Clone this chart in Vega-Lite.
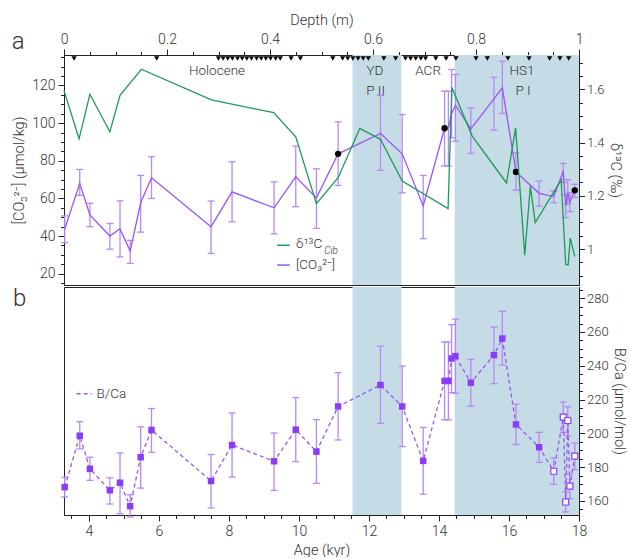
{
 "$schema": "https://vega.github.io/schema/vega-lite/v6.json",
 "padding": {"left": 11, "top": 11, "right": 0, "bottom": 0},
 "background": "white",
 "config": {
  "font": "Roboto",
  "view": {"stroke": "#222", "strokeWidth": 1},
  "axis": {"domainColor": "#222", "tickColor": "#222", "labelColor": "#333", "titleColor": "#333", "labelFontSize": 14, "titleFontSize": 14.5, "labelFontWeight": 300, "titleFontWeight": 300, "grid": false, "labelPadding": 3, "titlePadding": 5, "tickWidth": 1, "domainWidth": 1},
  "axisX": {"labelFlush": false},
  "axisRight": {"labelFontSize": 13, "labelPadding": 2, "titlePadding": 3},
  "text": {"font": "Roboto", "fontWeight": 300, "color": "#333"},
  "title": {"font": "Roboto", "fontWeight": 300, "color": "#333", "fontSize": 24}
 },
 "datasets": {
  "bands": [{"start": 11.53, "end": 12.93}, {"start": 14.45, "end": 18}],
  "co3": [
   {"age": 3.31, "v": 43.6, "lo": 36.5, "hi": 50.7},
   {"age": 3.74, "v": 68.0, "lo": 61.6, "hi": 75.4},
   {"age": 4.03, "v": 51.2, "lo": 45.0, "hi": 57.4},
   {"age": 4.60, "v": 40.0, "lo": 33.0, "hi": 46.7},
   {"age": 4.89, "v": 43.9, "lo": 28.9, "hi": 58.7},
   {"age": 5.18, "v": 32.0, "lo": 25.5, "hi": 37.7},
   {"age": 5.48, "v": 57.7, "lo": 42.1, "hi": 72.2},
   {"age": 5.79, "v": 71.0, "lo": 60.0, "hi": 82.1},
   {"age": 7.49, "v": 45.0, "lo": 30.8, "hi": 58.6},
   {"age": 8.09, "v": 63.5, "lo": 47.6, "hi": 79.5},
   {"age": 9.29, "v": 55.0, "lo": 41.2, "hi": 68.8},
   {"age": 9.91, "v": 71.5, "lo": 55.6, "hi": 87.8},
   {"age": 10.50, "v": 60.3, "lo": 44.1, "hi": 75.7},
   {"age": 11.12, "v": 83.7, "lo": 66.9, "hi": 100.7},
   {"age": 12.33, "v": 94.5, "lo": 74.9, "hi": 114.7},
   {"age": 12.95, "v": 83.7, "lo": 63.0, "hi": 104.6},
   {"age": 13.55, "v": 56.0, "lo": 38.6, "hi": 72.2},
   {"age": 14.16, "v": 97.3, "lo": 77.2, "hi": 117.0},
   {"age": 14.27, "v": 97.3, "lo": 77.2, "hi": 117.0},
   {"age": 14.36, "v": 105.0, "lo": 92.2, "hi": 128.5},
   {"age": 14.47, "v": 109.5, "lo": 90.4, "hi": 125.8},
   {"age": 14.91, "v": 97.0, "lo": 83.9, "hi": 108.1},
   {"age": 15.57, "v": 112.9, "lo": 96.3, "hi": 124.4},
   {"age": 15.81, "v": 118.7, "lo": 105.1, "hi": 132.9},
   {"age": 16.20, "v": 74.1, "lo": 64.4, "hi": 84.2},
   {"age": 16.86, "v": 62.7, "lo": 55.9, "hi": 69.2},
   {"age": 17.28, "v": 61.0, "lo": 57.7, "hi": 63.9},
   {"age": 17.55, "v": 74.5, "lo": 68.5, "hi": 78.6},
   {"age": 17.62, "v": 56.0, "lo": 49.7, "hi": 62.0},
   {"age": 17.68, "v": 63.0, "lo": 57.0, "hi": 70.0},
   {"age": 17.74, "v": 58.0, "lo": 53.0, "hi": 63.0},
   {"age": 17.88, "v": 64.3, "lo": 60.5, "hi": 67.5}
  ],
  "dots": [
   {"age": 11.12, "v": 83.7}, {"age": 14.16, "v": 97.3}, {"age": 16.20, "v": 74.1}, {"age": 17.88, "v": 64.3}
  ],
  "d13c": [
   {"age": 3.29, "d": 1.595}, {"age": 3.72, "d": 1.414}, {"age": 4.03, "d": 1.581}, {"age": 4.60, "d": 1.440},
   {"age": 4.89, "d": 1.577}, {"age": 5.50, "d": 1.675}, {"age": 7.50, "d": 1.560}, {"age": 9.28, "d": 1.512},
   {"age": 9.91, "d": 1.421}, {"age": 10.50, "d": 1.170}, {"age": 11.12, "d": 1.268}, {"age": 11.74, "d": 1.453},
   {"age": 12.33, "d": 1.412}, {"age": 12.95, "d": 1.255}, {"age": 14.26, "d": 1.152}, {"age": 14.37, "d": 1.607},
   {"age": 14.95, "d": 1.424}, {"age": 15.93, "d": 1.248}, {"age": 16.19, "d": 1.455}, {"age": 16.45, "d": 0.977},
   {"age": 16.61, "d": 1.236}, {"age": 16.75, "d": 1.099}, {"age": 17.49, "d": 1.260}, {"age": 17.62, "d": 0.942},
   {"age": 17.69, "d": 0.940}, {"age": 17.75, "d": 1.041}, {"age": 17.88, "d": 0.972}
  ],
  "depths": [
   {"depth": 0.0196}, {"depth": 0.180},
   {"depth": 0.300}, {"depth": 0.309}, {"depth": 0.318}, {"depth": 0.327}, {"depth": 0.337}, {"depth": 0.346}, {"depth": 0.355},
   {"depth": 0.364}, {"depth": 0.374}, {"depth": 0.383}, {"depth": 0.392}, {"depth": 0.401}, {"depth": 0.411}, {"depth": 0.420},
   {"depth": 0.441}, {"depth": 0.459}, {"depth": 0.522},
   {"depth": 0.541}, {"depth": 0.551}, {"depth": 0.561}, {"depth": 0.571}, {"depth": 0.581}, {"depth": 0.591},
   {"depth": 0.621}, {"depth": 0.644},
   {"depth": 0.663}, {"depth": 0.673}, {"depth": 0.683}, {"depth": 0.693}, {"depth": 0.702},
   {"depth": 0.722}, {"depth": 0.742}, {"depth": 0.761}, {"depth": 0.800}, {"depth": 0.822}, {"depth": 0.862},
   {"depth": 0.903}, {"depth": 0.943}, {"depth": 0.963}, {"depth": 0.980}
  ],
  "bca": [
   {"age": 3.31, "v": 168.2, "lo": 162.4, "hi": 174.0, "open": false},
   {"age": 3.74, "v": 198.6, "lo": 190.8, "hi": 206.9, "open": false},
   {"age": 4.03, "v": 179.0, "lo": 172.2, "hi": 185.9, "open": false},
   {"age": 4.60, "v": 166.3, "lo": 158.2, "hi": 173.7, "open": false},
   {"age": 4.89, "v": 170.8, "lo": 152.5, "hi": 188.4, "open": false},
   {"age": 5.18, "v": 156.9, "lo": 150.5, "hi": 163.7, "open": false},
   {"age": 5.48, "v": 185.9, "lo": 167.6, "hi": 203.9, "open": false},
   {"age": 5.79, "v": 202.0, "lo": 188.8, "hi": 214.7, "open": false},
   {"age": 7.49, "v": 171.8, "lo": 155.9, "hi": 187.5, "open": false},
   {"age": 8.09, "v": 193.1, "lo": 174.1, "hi": 212.0, "open": false},
   {"age": 9.29, "v": 183.5, "lo": 166.3, "hi": 200.2, "open": false},
   {"age": 9.91, "v": 202.2, "lo": 183.3, "hi": 221.2, "open": false},
   {"age": 10.50, "v": 189.2, "lo": 170.4, "hi": 208.1, "open": false},
   {"age": 11.12, "v": 215.9, "lo": 196.1, "hi": 235.9, "open": false},
   {"age": 12.33, "v": 228.6, "lo": 205.9, "hi": 251.6, "open": false},
   {"age": 12.95, "v": 215.9, "lo": 192.2, "hi": 239.8, "open": false},
   {"age": 13.55, "v": 183.7, "lo": 164.0, "hi": 203.5, "open": false},
   {"age": 14.16, "v": 231.0, "lo": 208.0, "hi": 254.1, "open": false},
   {"age": 14.27, "v": 231.0, "lo": 208.0, "hi": 254.1, "open": false},
   {"age": 14.36, "v": 244.3, "lo": 224.1, "hi": 264.3, "open": false},
   {"age": 14.47, "v": 245.7, "lo": 223.7, "hi": 267.6, "open": false},
   {"age": 14.91, "v": 230.0, "lo": 216.1, "hi": 243.7, "open": false},
   {"age": 15.57, "v": 246.3, "lo": 229.4, "hi": 262.9, "open": false},
   {"age": 15.81, "v": 256.1, "lo": 240.4, "hi": 272.2, "open": false},
   {"age": 16.20, "v": 205.3, "lo": 193.4, "hi": 217.3, "open": false},
   {"age": 16.86, "v": 191.8, "lo": 182.8, "hi": 200.6, "open": false},
   {"age": 17.28, "v": 177.6, "lo": 169.8, "hi": 185.5, "open": true},
   {"age": 17.55, "v": 209.6, "lo": 200.6, "hi": 218.6, "open": true},
   {"age": 17.62, "v": 159.4, "lo": 153.5, "hi": 165.3, "open": true},
   {"age": 17.68, "v": 207.6, "lo": 198.6, "hi": 215.7, "open": true},
   {"age": 17.74, "v": 168.8, "lo": 161.4, "hi": 175.7, "open": true},
   {"age": 17.88, "v": 186.5, "lo": 178.6, "hi": 194.3, "open": true}
  ]
 },
 "spacing": 0,
 "vconcat": [
  {
   "width": 515,
   "height": 230,
   "title": {"text": "a", "anchor": "start", "frame": "bounds", "offset": -42},
   "layer": [
    {
     "layer": [
      {
       "data": {"name": "bands"},
       "mark": {"type": "rect", "color": "#c5dce6"},
       "encoding": {
        "x": {"field": "start", "type": "quantitative", "scale": {"domain": [3.29, 18], "nice": false, "zero": false}, "axis": null},
        "x2": {"field": "end"}
       }
      },
      {
       "data": {"name": "co3"},
       "mark": {"type": "rule", "color": "#b688f8", "strokeWidth": 1.3},
       "encoding": {
        "x": {"field": "age", "type": "quantitative", "axis": null},
        "y": {"field": "lo", "type": "quantitative", "scale": {"domain": [14, 136.2], "nice": false, "zero": false}, "axis": null},
        "y2": {"field": "hi"}
       }
      },
      {
       "data": {"name": "co3"},
       "mark": {"type": "tick", "orient": "horizontal", "color": "#b688f8", "size": 7, "thickness": 1.3, "opacity": 1},
       "encoding": {"x": {"field": "age", "type": "quantitative", "axis": null}, "y": {"field": "lo", "type": "quantitative", "axis": null}}
      },
      {
       "data": {"name": "co3"},
       "mark": {"type": "tick", "orient": "horizontal", "color": "#b688f8", "size": 7, "thickness": 1.3, "opacity": 1},
       "encoding": {"x": {"field": "age", "type": "quantitative", "axis": null}, "y": {"field": "hi", "type": "quantitative", "axis": null}}
      },
      {
       "data": {"name": "co3"},
       "mark": {"type": "line", "color": "#9a55f5", "strokeWidth": 1.3},
       "encoding": {
        "x": {"field": "age", "type": "quantitative", "axis": null},
        "y": {"field": "v", "type": "quantitative",
         "axis": {"orient": "left", "title": "[CO₃²⁻] (µmol/kg)", "values": [15,20,25,30,35,40,45,50,55,60,65,70,75,80,85,90,95,100,105,110,115,120,125,130,135], "format": "~g",
          "labelExpr": "abs(datum.value/20 - round(datum.value/20)) < 0.001 ? datum.label : ''",
          "tickSize": {"condition": {"test": "abs(datum.value/20 - round(datum.value/20)) < 0.001", "value": 6}, "value": 3.5}}}
       }
      },
      {
       "data": {"name": "dots"},
       "mark": {"type": "point", "filled": true, "color": "#000", "size": 40, "opacity": 1},
       "encoding": {"x": {"field": "age", "type": "quantitative", "axis": null}, "y": {"field": "v", "type": "quantitative", "axis": null}}
      },
      {
       "data": {"values": [{}]},
       "mark": {"type": "text", "fontSize": 13.5, "align": "center", "baseline": "middle"},
       "encoding": {"x": {"datum": 7.66, "axis": null}, "y": {"datum": 127.6, "axis": null}, "text": {"value": "Holocene"}}
      },
      {
       "data": {"values": [{}]},
       "mark": {"type": "text", "fontSize": 13.5, "align": "center", "baseline": "middle"},
       "encoding": {"x": {"datum": 12.17, "axis": null}, "y": {"datum": 127.6, "axis": null}, "text": {"value": "YD"}}
      },
      {
       "data": {"values": [{}]},
       "mark": {"type": "text", "fontSize": 13.5, "align": "center", "baseline": "middle"},
       "encoding": {"x": {"datum": 12.19, "axis": null}, "y": {"datum": 117.3, "axis": null}, "text": {"value": "P II"}}
      },
      {
       "data": {"values": [{}]},
       "mark": {"type": "text", "fontSize": 13.5, "align": "center", "baseline": "middle"},
       "encoding": {"x": {"datum": 13.69, "axis": null}, "y": {"datum": 127.6, "axis": null}, "text": {"value": "ACR"}}
      },
      {
       "data": {"values": [{}]},
       "mark": {"type": "text", "fontSize": 13.5, "align": "center", "baseline": "middle"},
       "encoding": {"x": {"datum": 16.37, "axis": null}, "y": {"datum": 127.6, "axis": null}, "text": {"value": "HS1"}}
      },
      {
       "data": {"values": [{}]},
       "mark": {"type": "text", "fontSize": 13.5, "align": "center", "baseline": "middle"},
       "encoding": {"x": {"datum": 16.4, "axis": null}, "y": {"datum": 117.3, "axis": null}, "text": {"value": "P I"}}
      },
      {
       "data": {"values": [{}]},
       "mark": {"type": "rule", "color": "#1e9a58", "strokeWidth": 1.5},
       "encoding": {"x": {"datum": 9.38, "axis": null}, "x2": {"datum": 9.74}, "y": {"datum": 35.1, "axis": null}}
      },
      {
       "data": {"values": [{}]},
       "mark": {"type": "rule", "color": "#9a55f5", "strokeWidth": 1.5},
       "encoding": {"x": {"datum": 9.38, "axis": null}, "x2": {"datum": 9.74}, "y": {"datum": 24.6, "axis": null}}
      },
      {
       "data": {"values": [{}]},
       "mark": {"type": "text", "fontSize": 13.5, "align": "left", "baseline": "middle"},
       "encoding": {"x": {"datum": 9.92, "axis": null}, "y": {"datum": 35.6, "axis": null}, "text": {"value": "δ¹³C"}}
      },
      {
       "data": {"values": [{}]},
       "mark": {"type": "text", "fontSize": 10, "fontStyle": "italic", "align": "left", "baseline": "middle"},
       "encoding": {"x": {"datum": 10.72, "axis": null}, "y": {"datum": 32.0, "axis": null}, "text": {"value": "Cib"}}
      },
      {
       "data": {"values": [{}]},
       "mark": {"type": "text", "fontSize": 13.5, "align": "left", "baseline": "middle"},
       "encoding": {"x": {"datum": 9.92, "axis": null}, "y": {"datum": 24.6, "axis": null}, "text": {"value": "[CO₃²⁻]"}}
      }
     ],
     "resolve": {"axis": {"x": "independent", "y": "independent"}}
    },
    {
     "data": {"name": "d13c"},
     "mark": {"type": "line", "color": "#1e9a58", "strokeWidth": 1.3},
     "encoding": {
      "x": {"field": "age", "type": "quantitative", "scale": {"domain": [3.29, 18], "nice": false, "zero": false}, "axis": null},
      "y": {"field": "d", "type": "quantitative", "scale": {"domain": [0.865, 1.7286], "nice": false, "zero": false},
       "axis": {"orient": "right", "title": "δ¹³C (‰)", "values": [0.9,0.95,1,1.05,1.1,1.15,1.2,1.25,1.3,1.35,1.4,1.45,1.5,1.55,1.6,1.65,1.7], "format": "~g",
        "labelExpr": "abs(datum.value*5 - round(datum.value*5)) < 0.001 ? datum.label : ''",
        "tickSize": {"condition": {"test": "abs(datum.value*5 - round(datum.value*5)) < 0.001", "value": 5.5}, "value": 3.5}}}
     }
    },
    {
     "data": {"name": "depths"},
     "mark": {"type": "point", "shape": "triangle-down", "filled": true, "color": "#000", "size": 28, "opacity": 1},
     "encoding": {
      "x": {"field": "depth", "type": "quantitative", "scale": {"domain": [0, 1], "nice": false, "zero": false},
       "axis": {"orient": "top", "title": "Depth (m)", "labelFlush": false, "values": [0,0.05,0.1,0.15,0.2,0.25,0.3,0.35,0.4,0.45,0.5,0.55,0.6,0.65,0.7,0.75,0.8,0.85,0.9,0.95,1], "format": "~g",
        "labelExpr": "abs(datum.value*5 - round(datum.value*5)) < 0.001 ? datum.label : ''",
        "tickSize": {"condition": {"test": "abs(datum.value*5 - round(datum.value*5)) < 0.001", "value": 6}, "value": 3.5}}},
      "y": {"datum": 0.985, "type": "quantitative", "scale": {"domain": [0, 1], "nice": false, "zero": false}, "axis": null}
     }
    }
   ],
   "resolve": {"scale": {"x": "independent", "y": "independent"}}
  },
  {
   "width": 515,
   "height": 228,
   "title": {"text": "b", "anchor": "start", "frame": "group", "offset": -24, "dx": -51},
   "layer": [
    {
     "data": {"name": "bands"},
     "mark": {"type": "rect", "color": "#c5dce6"},
     "encoding": {
      "x": {"field": "start", "type": "quantitative", "scale": {"domain": [3.29, 18], "nice": false, "zero": false}, "axis": null},
      "x2": {"field": "end"}
     }
    },
    {
     "data": {"name": "bca"},
     "mark": {"type": "rule", "color": "#b688f8", "strokeWidth": 1.3},
     "encoding": {
      "x": {"field": "age", "type": "quantitative", "axis": null},
      "y": {"field": "lo", "type": "quantitative", "scale": {"domain": [151.7, 286.6], "nice": false, "zero": false}, "axis": null},
      "y2": {"field": "hi"}
     }
    },
    {
     "data": {"name": "bca"},
     "mark": {"type": "tick", "orient": "horizontal", "color": "#b688f8", "size": 7, "thickness": 1.3, "opacity": 1},
     "encoding": {"x": {"field": "age", "type": "quantitative", "axis": null}, "y": {"field": "lo", "type": "quantitative", "axis": null}}
    },
    {
     "data": {"name": "bca"},
     "mark": {"type": "tick", "orient": "horizontal", "color": "#b688f8", "size": 7, "thickness": 1.3, "opacity": 1},
     "encoding": {"x": {"field": "age", "type": "quantitative", "axis": null}, "y": {"field": "hi", "type": "quantitative", "axis": null}}
    },
    {
     "data": {"name": "bca"},
     "mark": {"type": "line", "color": "#9a55f5", "strokeWidth": 1.3, "strokeDash": [4, 3]},
     "encoding": {
      "x": {"field": "age", "type": "quantitative",
       "axis": {"orient": "bottom", "title": "Age (kyr)", "labelFlush": false, "values": [3.5,4,4.5,5,5.5,6,6.5,7,7.5,8,8.5,9,9.5,10,10.5,11,11.5,12,12.5,13,13.5,14,14.5,15,15.5,16,16.5,17,17.5,18], "format": "~g",
        "labelExpr": "abs(datum.value/2 - round(datum.value/2)) < 0.001 ? datum.label : ''",
        "tickSize": {"condition": {"test": "abs(datum.value/2 - round(datum.value/2)) < 0.001", "value": 6}, "value": 3.5}}},
      "y": {"field": "v", "type": "quantitative",
       "axis": {"orient": "right", "title": "B/Ca (µmol/mol)", "values": [155,160,165,170,175,180,185,190,195,200,205,210,215,220,225,230,235,240,245,250,255,260,265,270,275,280,285], "format": "~g",
        "labelExpr": "abs(datum.value/20 - round(datum.value/20)) < 0.001 ? datum.label : ''",
        "tickSize": {"condition": {"test": "abs(datum.value/20 - round(datum.value/20)) < 0.001", "value": 5.5}, "value": 3.5}}}
     }
    },
    {
     "data": {"name": "bca"},
     "transform": [{"filter": "!datum.open"}],
     "mark": {"type": "point", "shape": "square", "filled": true, "color": "#8a3cf6", "size": 42, "opacity": 1},
     "encoding": {"x": {"field": "age", "type": "quantitative", "axis": null}, "y": {"field": "v", "type": "quantitative", "axis": null}}
    },
    {
     "data": {"name": "bca"},
     "transform": [{"filter": "datum.open"}],
     "mark": {"type": "point", "shape": "square", "filled": true, "fill": "#fff", "stroke": "#8a3cf6", "strokeWidth": 1.2, "size": 36, "opacity": 1},
     "encoding": {"x": {"field": "age", "type": "quantitative", "axis": null}, "y": {"field": "v", "type": "quantitative", "axis": null}}
    },
    {
     "data": {"values": [{}]},
     "mark": {"type": "rule", "color": "#9a55f5", "strokeWidth": 1.5, "strokeDash": [4, 3]},
     "encoding": {"x": {"datum": 3.65, "axis": null}, "x2": {"datum": 4.08}, "y": {"datum": 223.5, "axis": null}}
    },
    {
     "data": {"values": [{}]},
     "mark": {"type": "text", "fontSize": 13.5, "align": "left", "baseline": "middle"},
     "encoding": {"x": {"datum": 4.22, "axis": null}, "y": {"datum": 223.5, "axis": null}, "text": {"value": "B/Ca"}}
    }
   ],
   "resolve": {"axis": {"x": "independent", "y": "independent"}}
  }
 ]
}
